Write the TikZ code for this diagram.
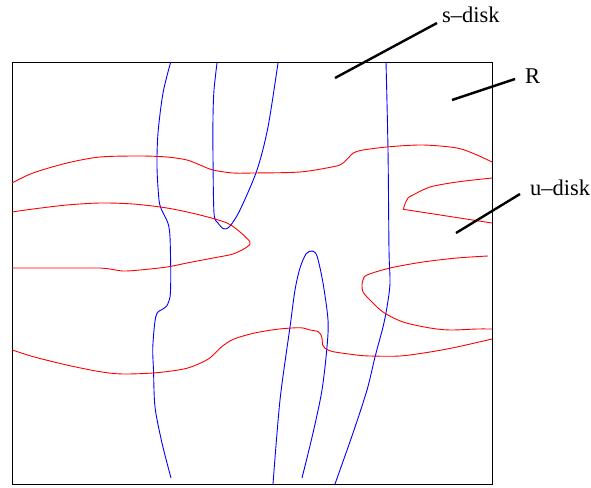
\documentclass[tikz,border=0pt]{standalone}
\usepackage{fontspec}
\setmainfont{Liberation Serif}
\begin{document}
\begin{tikzpicture}[x=1pt,y=-1pt,
  scurve/.style={blue, line width=0.9pt},
  ucurve/.style={red, line width=0.9pt},
  leader/.style={black, line width=2.4pt},
  lbl/.style={inner sep=0pt, anchor=base west, font=\fontsize{22.5}{26}\selectfont}]
\useasboundingbox (0,0) rectangle (591,487);
% region R
\draw[line width=0.9pt] (12,62) rectangle (492,484);
% s-disk curves (blue)
\draw[scurve] plot[smooth] coordinates {(170.7,62) (163,93) (158,133) (157,167) (159,200) (161.7,210) (165.7,218) (168.5,225) (170,237) (170.7,267) (170.7,283) (170,297) (166.7,306) (162,309.5) (158,312) (155.7,317) (154,330) (152.7,350) (153.5,370) (155,407) (162,443) (171,478)};
\draw[scurve] plot[smooth] coordinates {(217,63) (214,90) (213,117) (213,157) (214,213) (218,223) (224,229) (230,226) (240,210) (257,170) (268,127) (278,63)};
\draw[scurve] plot[smooth] coordinates {(273,484) (280,400) (290,327) (295,290) (300,268) (306,254) (312,251) (317,256) (323,283) (328,320) (327,347) (322,390) (313,433) (302,478)};
\draw[scurve] plot[smooth] coordinates {(386,62) (388,150) (389,250) (390,283) (387,307) (383,327) (375,357) (367,390) (353,433) (335,484)};
% u-disk curves (red)
\draw[ucurve] plot[smooth] coordinates {(12,183) (33,173) (67,163) (100,157) (140,156) (167,157) (187,160) (200,165) (213,170) (233,173) (253,173) (300,172) (333.3,166.7) (341.7,164) (348.3,158) (353.3,153) (363,150) (390,146.7) (423,145) (457,148) (477,155) (492,162)};
\draw[ucurve] plot[smooth] coordinates {(12,212) (33,209) (67,205) (100,203) (133,204) (167,208) (200,215) (227,223) (240,232) (250,242) (247,247) (233,254) (213,258) (187,263) (167,267) (140,270) (123,271) (110,269) (100,268)} -- (12,268);
\draw[ucurve] plot[smooth] coordinates {(492,178) (457,182) (430,187) (413,195) (408,198) (405,204) (403.3,209.3)} -- (492,223);
\draw[ucurve] plot[smooth] coordinates {(488,256) (457,258) (423,262) (390,268) (367,275) (363,280) (362,285) (363,292) (370,300) (383,312) (403,322) (430,328) (450,330) (477,329) (492,329)};
\draw[ucurve] plot[smooth] coordinates {(12.3,350) (33.3,356.7) (66.7,365) (100,371.7) (123,374) (156.7,372.7) (186.7,368.3) (206.7,360) (215,353.3) (221.7,346.7) (233.3,339.3) (253.3,333.3) (276.7,329.3) (300,327.7) (310,330) (318.3,331.7) (321.7,336.7) (322.7,345) (325,348.3) (333.3,351.7) (356.7,355) (370,356) (400,356) (430,352) (457,347) (492,339)};
% labels
\node[lbl] (sdisk) at (442,23) {s–disk};
\node[lbl] (R) at (525,83.5) {R};
\node[lbl] (udisk) at (530,195.5) {u–disk};
\coordinate (sEnd) at (335,78);
\coordinate (sStart) at (437,23);
\coordinate (rEnd) at (452,100);
\coordinate (rStart) at (515,79);
\coordinate (uEnd) at (456,233);
\coordinate (uStart) at (520,194);
\draw[leader] (sStart) -- (sEnd);
\draw[leader] (rStart) -- (rEnd);
\draw[leader] (uStart) -- (uEnd);
\end{tikzpicture}
\end{document}
